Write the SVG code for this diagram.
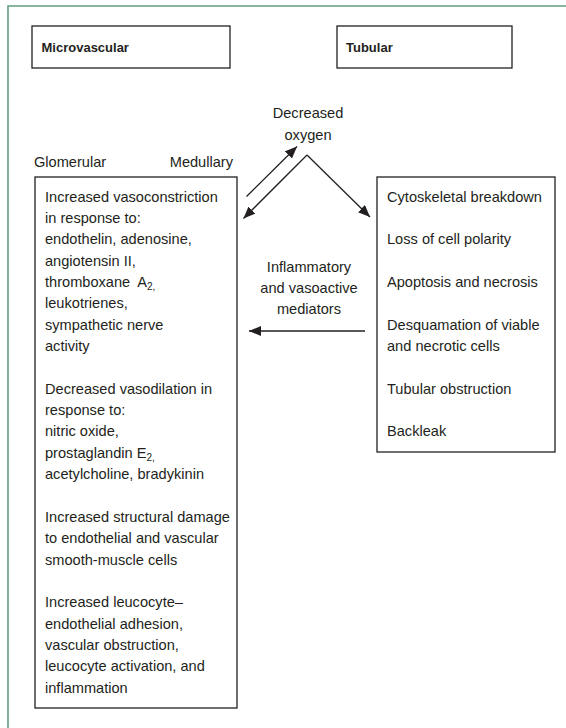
<svg xmlns="http://www.w3.org/2000/svg" width="566" height="728" viewBox="0 0 566 728">
<style>
text{font-family:"Liberation Sans",Arial,sans-serif;font-size:14.6px;fill:#231f20}
.h{font-weight:bold;font-size:13px}
.c{text-anchor:middle}
.box{fill:#fff;stroke:#231f20;stroke-width:1.3}
.ln{fill:none;stroke:#231f20;stroke-width:1.3}
.sub{font-size:10px}
</style>
<defs>
<marker id="ah" markerUnits="userSpaceOnUse" markerWidth="13" markerHeight="11" refX="12" refY="5" orient="auto">
<path d="M0,0 L12,5 L0,10 z" fill="#231f20"/>
</marker>
</defs>
<rect width="566" height="728" fill="#fff"/>
<path d="M8,728 V6 H566" fill="none" stroke="#5f9f80" stroke-width="1.6"/>

<g id="microvascular-header">
<rect class="box" x="32" y="26" width="198" height="42"/>
<text class="h" x="41.5" y="51.5">Microvascular</text>
</g>
<g id="tubular-header">
<rect class="box" x="337" y="26" width="175" height="42"/>
<text class="h" x="346" y="51.5">Tubular</text>
</g>

<g id="labels-glom-med">
<text x="34" y="167">Glomerular</text>
<text x="233" y="167" text-anchor="end">Medullary</text>
</g>

<g id="decreased-oxygen">
<text class="c" x="308" y="118">Decreased</text>
<text class="c" x="308" y="139.5">oxygen</text>
</g>

<g id="mediators-label">
<text class="c" x="309" y="271.5">Inflammatory</text>
<text class="c" x="309" y="292.8">and vasoactive</text>
<text class="c" x="309" y="314">mediators</text>
</g>

<g id="microvascular-box">
<rect class="box" x="35" y="177" width="202" height="531"/>
<text x="45" y="201.5">Increased vasoconstriction</text>
<text x="45" y="222.9">in response to:</text>
<text x="45" y="244.2">endothelin, adenosine,</text>
<text x="45" y="265.6">angiotensin II,</text>
<text x="45" y="286.9">thromboxane<tspan dx="7">A</tspan><tspan class="sub" dy="3.5">2,</tspan></text>
<text x="45" y="308.3">leukotrienes,</text>
<text x="45" y="329.6">sympathetic nerve</text>
<text x="45" y="351">activity</text>
<text x="45" y="393.7">Decreased vasodilation in</text>
<text x="45" y="415">response to:</text>
<text x="45" y="436.4">nitric oxide,</text>
<text x="45" y="457.7">prostaglandin E<tspan class="sub" dy="3.5">2,</tspan></text>
<text x="45" y="479.1">acetylcholine, bradykinin</text>
<text x="45" y="521.8">Increased structural damage</text>
<text x="45" y="543.1">to endothelial and vascular</text>
<text x="45" y="564.5">smooth-muscle cells</text>
<text x="45" y="607.2">Increased leucocyte–</text>
<text x="45" y="628.5">endothelial adhesion,</text>
<text x="45" y="649.9">vascular obstruction,</text>
<text x="45" y="671.2">leucocyte activation, and</text>
<text x="45" y="692.6">inflammation</text>
</g>

<g id="tubular-box">
<rect class="box" x="377" y="177" width="178" height="275"/>
<text x="387" y="201.5">Cytoskeletal breakdown</text>
<text x="387" y="244.2">Loss of cell polarity</text>
<text x="387" y="286.9">Apoptosis and necrosis</text>
<text x="387" y="329.6">Desquamation of viable</text>
<text x="387" y="351">and necrotic cells</text>
<text x="387" y="393.7">Tubular obstruction</text>
<text x="387" y="436.4">Backleak</text>
</g>

<g id="connectors">
<line class="ln" x1="246.5" y1="196.5" x2="297" y2="146.5" marker-end="url(#ah)"/>
<line class="ln" x1="307" y1="155" x2="243.5" y2="218.5" marker-end="url(#ah)"/>
<line class="ln" x1="307" y1="155" x2="370" y2="217" marker-end="url(#ah)"/>
<line class="ln" x1="365" y1="331" x2="249" y2="331" marker-end="url(#ah)"/>
</g>
</svg>
